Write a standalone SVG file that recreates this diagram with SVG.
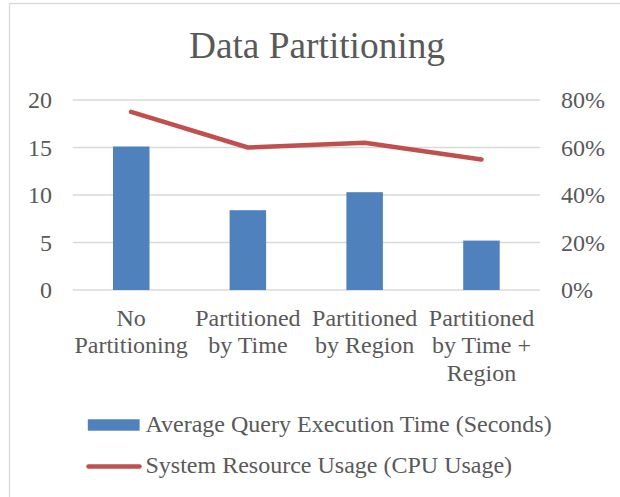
<svg xmlns="http://www.w3.org/2000/svg" width="620" height="497" viewBox="0 0 620 497">
<style>
text{font-family:"Liberation Serif","Times New Roman",serif;fill:#595959;font-size:24px}
.l{text-anchor:end}
.c{text-anchor:middle}
.grid{stroke:#D9D9D9;stroke-width:1.33;fill:none}
.bar{fill:#4F81BD}
.cpu{stroke:#C0504D;stroke-width:4.5;fill:none;stroke-linecap:round;stroke-linejoin:round}
</style>
<rect x="0" y="0" width="620" height="497" fill="#FFFFFF"/>
<rect x="9.5" y="3.5" width="640" height="520" fill="none" stroke="#D9D9D9" stroke-width="1.33"/>
<g id="title"><text x="317" y="58" class="c" style="font-size:37.33px">Data Partitioning</text></g>
<g id="gridlines">
<line class="grid" x1="72.7" y1="100" x2="540" y2="100"/>
<line class="grid" x1="72.7" y1="147.5" x2="540" y2="147.5"/>
<line class="grid" x1="72.7" y1="195" x2="540" y2="195"/>
<line class="grid" x1="72.7" y1="242.5" x2="540" y2="242.5"/>
<line class="grid" x1="72.7" y1="290" x2="540" y2="290"/>
</g>
<g id="left-axis">
<text x="52" y="108" class="l">20</text>
<text x="52" y="155.5" class="l">15</text>
<text x="52" y="203" class="l">10</text>
<text x="52" y="250.5" class="l">5</text>
<text x="52" y="298" class="l">0</text>
</g>
<g id="right-axis">
<text x="561" y="108">80%</text>
<text x="561" y="155.5">60%</text>
<text x="561" y="203">40%</text>
<text x="561" y="250.5">20%</text>
<text x="561" y="298">0%</text>
</g>
<g id="bars">
<rect class="bar" x="113" y="146.5" width="36.5" height="143.5"/>
<rect class="bar" x="229.6" y="210.2" width="36.5" height="79.8"/>
<rect class="bar" x="346.4" y="192.2" width="36.5" height="97.8"/>
<rect class="bar" x="463.2" y="240.6" width="36.5" height="49.4"/>
</g>
<g id="connectors">
<polyline class="cpu" points="131.1,111.9 247.9,147.5 364.7,142.8 481.5,159.4"/>
</g>
<g id="categories">
<text class="c" x="131.1" y="326">No</text>
<text class="c" x="131.1" y="353.3">Partitioning</text>
<text class="c" x="247.9" y="326">Partitioned</text>
<text class="c" x="247.9" y="353.3">by Time</text>
<text class="c" x="364.7" y="326">Partitioned</text>
<text class="c" x="364.7" y="353.3">by Region</text>
<text class="c" x="481.5" y="326">Partitioned</text>
<text class="c" x="481.5" y="353.3">by Time +</text>
<text class="c" x="481.5" y="380.6">Region</text>
</g>
<g id="legend">
<rect class="bar" x="87.8" y="419.3" width="51.8" height="11.4"/>
<text x="145.5" y="431.5">Average Query Execution Time (Seconds)</text>
<line class="cpu" x1="88.5" y1="466.5" x2="139.5" y2="466.5"/>
<text x="145.5" y="472.8">System Resource Usage (CPU Usage)</text>
</g>
</svg>
